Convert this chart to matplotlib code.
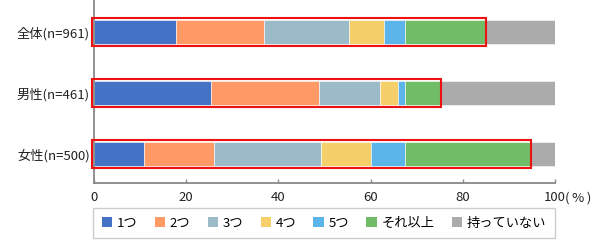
import numpy as np
import matplotlib
matplotlib.use("Agg")
import matplotlib.pyplot as plt
from matplotlib.patches import Patch, Rectangle

plt.rcParams['font.family'] = ['Noto Sans CJK JP', 'DejaVu Sans']

# data (%)
groups = ['全体(n=961)', '男性(n=461)', '女性(n=500)']
series = ['1つ', '2つ', '3つ', '4つ', '5つ', 'それ以上', '持っていない']
values = [
    [17.8, 19.1, 18.4, 7.5, 4.7, 17.5, 15.0],
    [25.4, 23.5, 13.1, 3.9, 1.6, 7.6, 24.9],
    [10.8, 15.2, 23.2, 10.8, 7.5, 27.3, 5.2],
]
colors = ['#4472C4', '#FF9966', '#9BBBC9', '#F5CF6A', '#5BB5EA', '#71BC67', '#ABABAB']
xticks = [0, 20, 40, 60, 80, 100]

data = np.array(values)
ypos = np.arange(len(groups))

fig = plt.figure(figsize=(6, 2.4), dpi=100)
ax = fig.add_axes([94 / 600, 1 - 183 / 240, 461 / 600, 183 / 240])

bar_h = 0.405
left = np.zeros(len(groups))
for j, name in enumerate(series):
    ax.barh(ypos, data[:, j], left=left, height=bar_h, color=colors[j],
            edgecolor='white', linewidth=0.4, label=name)
    left += data[:, j]

# red frames around the "owns at least one" part
owned = data[:, :-1].sum(axis=1)
frame_h = 0.465
for y, tot in zip(ypos, owned):
    ax.add_patch(Rectangle((-0.4, y - frame_h / 2), tot + 0.5, frame_h,
                           fill=False, edgecolor='#EE1111', linewidth=1.5,
                           clip_on=False, zorder=5))

ax.set_xlim(0, 100)
ax.set_ylim(2.475, -0.525)
ax.set_yticks(ypos)
ax.set_yticklabels(groups, fontsize=9.5)
ax.set_xticks(xticks)
ax.set_xticklabels([str(t) for t in xticks], fontsize=9.5)
ax.annotate('(\u2009%\u2009)', xy=(100, 0), xycoords=('data', 'axes fraction'),
            xytext=(7.5, -6), textcoords='offset points',
            fontsize=9.5, ha='left', va='top', color='#222222')
ax.tick_params(axis='y', length=0, pad=3, colors='#222222')
ax.tick_params(axis='x', direction='in', length=3, width=1, color='#888888',
               pad=6, labelcolor='#222222')

for s in ['top', 'right']:
    ax.spines[s].set_visible(False)
for s in ['left', 'bottom']:
    ax.spines[s].set_color('#888888')
    ax.spines[s].set_linewidth(1.3)

# legend with its own frame
fig.add_artist(Rectangle((93 / 600, 1 - 238 / 240), 462 / 600, 30 / 240,
                         transform=fig.transFigure, fill=False,
                         edgecolor='#CCCCCC', linewidth=1))
handles = [Patch(facecolor=c, edgecolor='none', label=n) for c, n in zip(colors, series)]
fig.legend(handles=handles, loc='center', bbox_to_anchor=(324 / 600, 1 - 223 / 240),
           ncol=7, frameon=False, fontsize=9.5, handlelength=0.8, handleheight=0.8,
           handletextpad=0.35, columnspacing=1.3, borderpad=0)

fig.savefig('out.png', dpi=100)
